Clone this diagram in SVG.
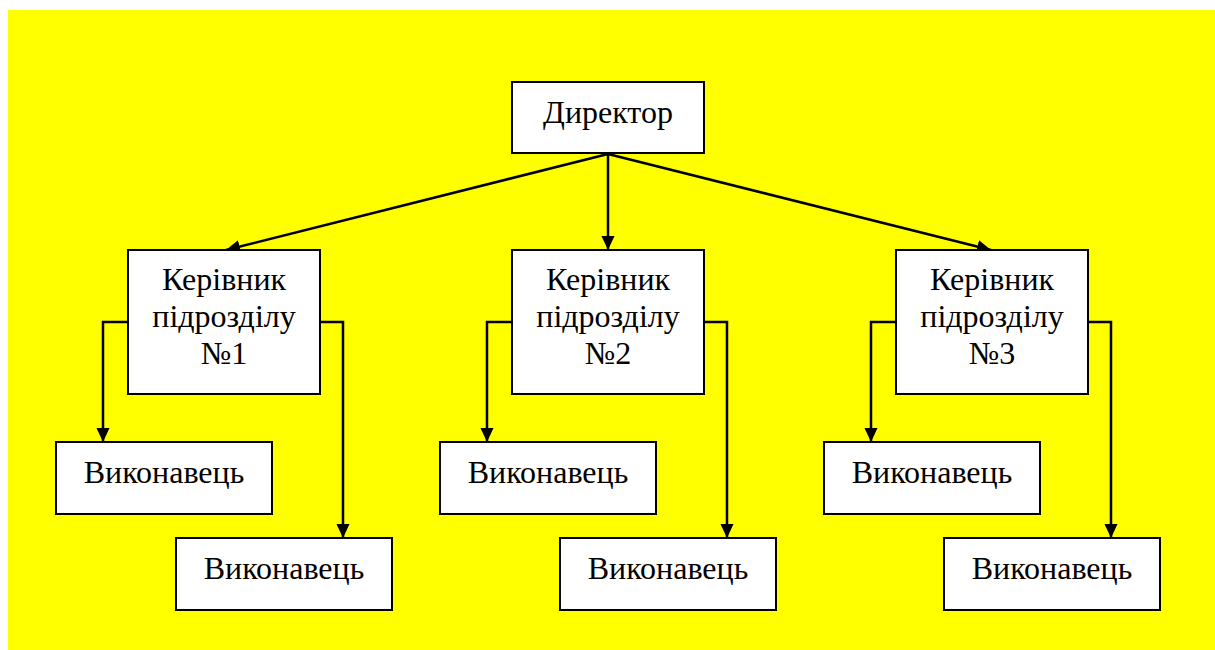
<svg xmlns="http://www.w3.org/2000/svg" width="1215" height="650" viewBox="0 0 1215 650">
<style>
.box{fill:#fff;stroke:#000;stroke-width:2}
.t{font-family:'Liberation Serif','DejaVu Serif',serif;font-size:32px;fill:#000;text-anchor:middle}
.c{fill:none;stroke:#000;stroke-width:2.5}
</style>
<defs>
<marker id="ah" markerWidth="14" markerHeight="15" viewBox="0 0 15 14" refX="15" refY="7" orient="auto" markerUnits="userSpaceOnUse">
<path d="M0,0 L15,7 L0,14 z" fill="#000"/>
</marker>
</defs>
<rect x="0" y="0" width="1215" height="650" fill="#fff"/>
<rect x="8" y="10" width="1207" height="640" fill="#ffff00"/>
<g id="connectors">
<line class="c" x1="608" y1="154" x2="226" y2="250" marker-end="url(#ah)"/>
<line class="c" x1="608" y1="154" x2="608" y2="250" marker-end="url(#ah)"/>
<line class="c" x1="608" y1="154" x2="991" y2="250" marker-end="url(#ah)"/>
<polyline class="c" points="128,322 103,322 103,442" marker-end="url(#ah)"/>
<polyline class="c" points="320,322 343,322 343,538" marker-end="url(#ah)"/>
<polyline class="c" points="512,322 487,322 487,442" marker-end="url(#ah)"/>
<polyline class="c" points="704,322 727,322 727,538" marker-end="url(#ah)"/>
<polyline class="c" points="896,322 871,322 871,442" marker-end="url(#ah)"/>
<polyline class="c" points="1088,322 1111,322 1111,538" marker-end="url(#ah)"/>
</g>
<g id="director"><rect class="box" x="512" y="82" width="192" height="71"/><text class="t" x="608" y="123">Директор</text></g>
<g id="head1"><rect class="box" x="128" y="250" width="192" height="144"/><text class="t" x="224" y="290">Керівник</text><text class="t" x="224" y="327">підрозділу</text><text class="t" x="224" y="364">№1</text></g>
<g id="head2"><rect class="box" x="512" y="250" width="192" height="144"/><text class="t" x="608" y="290">Керівник</text><text class="t" x="608" y="327">підрозділу</text><text class="t" x="608" y="364">№2</text></g>
<g id="head3"><rect class="box" x="896" y="250" width="192" height="144"/><text class="t" x="992" y="290">Керівник</text><text class="t" x="992" y="327">підрозділу</text><text class="t" x="992" y="364">№3</text></g>
<g id="exec1a"><rect class="box" x="56" y="442" width="216" height="72"/><text class="t" x="164" y="483">Виконавець</text></g>
<g id="exec1b"><rect class="box" x="176" y="538" width="216" height="72"/><text class="t" x="284" y="579">Виконавець</text></g>
<g id="exec2a"><rect class="box" x="440" y="442" width="216" height="72"/><text class="t" x="548" y="483">Виконавець</text></g>
<g id="exec2b"><rect class="box" x="560" y="538" width="216" height="72"/><text class="t" x="668" y="579">Виконавець</text></g>
<g id="exec3a"><rect class="box" x="824" y="442" width="216" height="72"/><text class="t" x="932" y="483">Виконавець</text></g>
<g id="exec3b"><rect class="box" x="944" y="538" width="216" height="72"/><text class="t" x="1052" y="579">Виконавець</text></g>
</svg>
